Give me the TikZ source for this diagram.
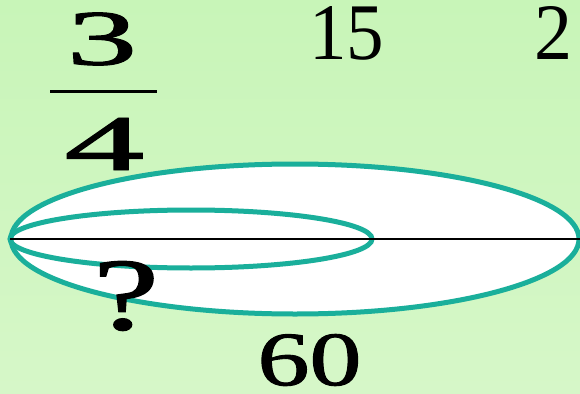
\documentclass[tikz,border=0pt]{standalone}
\usepackage{fontspec}
\setmainfont{Liberation Serif}
\newfontfamily\medfont[FakeBold=1.2]{Liberation Serif}
\usepackage{graphicx}
\definecolor{bgtop}{RGB}{200,245,184}
\definecolor{bgbot}{RGB}{214,247,200}
\definecolor{teal1}{RGB}{26,175,155}
\begin{document}
\begin{tikzpicture}[x=1pt,y=-1pt,
  lbl/.style={inner sep=0pt,outer sep=0pt,text=black},
  ring/.style={draw=teal1,line width=5pt}]
\useasboundingbox (0,0) rectangle (580,393);
\shade[top color=bgtop,bottom color=bgbot] (0,0) rectangle (580,393);
% ellipses
\draw[ring,fill=white] (295,239) ellipse [x radius=284,y radius=75];
\draw[ring] (191,239) ellipse [x radius=181,y radius=29];
\coordinate (L) at (10,239);
\coordinate (R) at (580,239);
\draw[black,line width=1.8pt] (L) -- (R);
% texts
\node[lbl] (three) at (102,39) {\resizebox{70pt}{52pt}{\medfont 3}};
\coordinate (barL) at (50,92);
\coordinate (barR) at (157,92);
\draw[black,line width=3pt] (barL) -- (barR);
\node[lbl] (four) at (104.5,144) {\resizebox{80pt}{52pt}{\medfont 4}};
\node[lbl] (fifteen) at (346.5,33) {\resizebox{75pt}{53pt}{15}};
\node[lbl] (two) at (553.5,33) {\resizebox{38pt}{53pt}{2}};
\node[lbl] (q) at (126,296) {\resizebox{66pt}{68pt}{\medfont ?}};
\node[lbl] (sixty) at (309.5,360) {\resizebox{104pt}{51pt}{\medfont 60}};
\end{tikzpicture}
\end{document}
